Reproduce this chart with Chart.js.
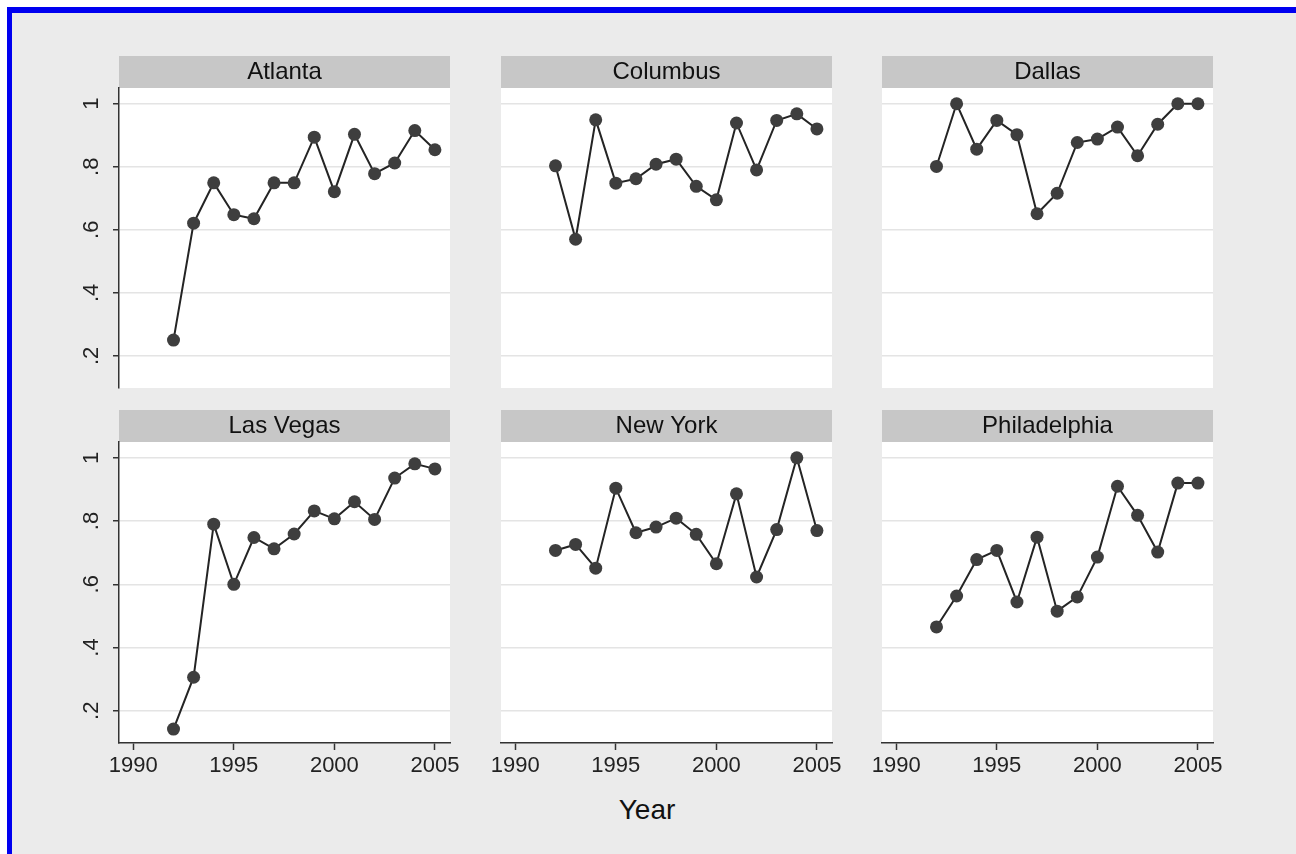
<!DOCTYPE html>
<html>
<head>
<meta charset="utf-8">
<title>Share by city, 1992-2005</title>
<script src="https://cdn.jsdelivr.net/npm/chart.js@4.4.1/dist/chart.umd.min.js"></script>
<style>
    html, body { margin: 0; padding: 0; background: #fff; }
    body { width: 1296px; height: 854px; overflow: hidden; position: relative; font-family: "Liberation Sans", Arial, sans-serif; }
    #frame { position: absolute; left: 7px; top: 7px; right: 0; bottom: 0; background: #ebebeb; border-top: 6px solid #0000f0; border-left: 5px solid #0000f0; }
    canvas.panel { position: absolute; }
    #xTitle { position: absolute; left: 547px; width: 200px; top: 794px; line-height: 32px; text-align: center; font-size: 28px; color: #111; }
</style>
</head>
<body>
<div id="frame"></div>
<div id="xTitle">Year</div>

<script>
// Data (one value per year, 1992-2005)
const years = [1992, 1993, 1994, 1995, 1996, 1997, 1998, 1999, 2000, 2001, 2002, 2003, 2004, 2005];

const atlanta      = [0.250, 0.621, 0.749, 0.648, 0.635, 0.749, 0.749, 0.894, 0.721, 0.903, 0.778, 0.812, 0.915, 0.854];
const columbus     = [0.803, 0.570, 0.949, 0.748, 0.762, 0.808, 0.824, 0.738, 0.695, 0.939, 0.790, 0.947, 0.968, 0.920];
const dallas       = [0.801, 1.000, 0.856, 0.947, 0.902, 0.651, 0.716, 0.877, 0.888, 0.926, 0.835, 0.935, 1.000, 1.000];
const lasVegas     = [0.142, 0.306, 0.790, 0.600, 0.748, 0.712, 0.759, 0.832, 0.807, 0.861, 0.805, 0.936, 0.981, 0.965];
const newYork      = [0.707, 0.726, 0.651, 0.904, 0.763, 0.781, 0.809, 0.758, 0.665, 0.886, 0.623, 0.773, 1.000, 0.770];
const philadelphia = [0.465, 0.563, 0.678, 0.707, 0.544, 0.749, 0.515, 0.560, 0.686, 0.910, 0.818, 0.702, 0.920, 0.920];

const cityNames  = ['Atlanta', 'Columbus', 'Dallas', 'Las Vegas', 'New York', 'Philadelphia'];
const cityValues = [atlanta, columbus, dallas, lasVegas, newYork, philadelphia];

const xTicks = [1990, 1995, 2000, 2005];
const yTicks = [0.2, 0.4, 0.6, 0.8, 1];
const yTickLabels = ['.2', '.4', '.6', '.8', '1'];

// Panel geometry
const colLeft = [119, 501, 882];
const rowTop = [56, 410];
const plotWidth = 331;
const axisSpace = 70;      // room left of the plot for the y axis
const rightPad = 20;
const headerHeight = 32;
const xAxisHeight = 50;
const bottomPad = 40;      // top row: keeps rotated y labels from squeezing the plot

Chart.defaults.font.family = '"Liberation Sans", Arial, sans-serif';
Chart.defaults.color = '#222';

// Paints the white plot area and the grey strip behind each panel title
const panelBackground = {
    id: 'panelBackground',
    beforeDraw(chart) {
        const ctx = chart.ctx;
        const area = chart.chartArea;
        const t = chart.titleBlock;
        ctx.save();
        ctx.fillStyle = '#c7c7c7';
        ctx.fillRect(area.left, t.top, area.right - area.left, t.bottom - t.top);
        ctx.fillStyle = '#ffffff';
        ctx.fillRect(area.left, area.top, area.right - area.left, area.bottom - area.top);
        ctx.restore();
    }
};

function makePanel(index) {
    const row = Math.floor(index / 3);
    const col = index % 3;
    const showX = row === 1;
    const showY = col === 0;
    const plotHeight = row === 0 ? 300 : 301;
    const bottomSpace = showX ? xAxisHeight : bottomPad;

    const canvas = document.createElement('canvas');
    canvas.className = 'panel';
    canvas.width = axisSpace + plotWidth + rightPad;
    canvas.height = headerHeight + plotHeight + bottomSpace;
    canvas.style.left = (colLeft[col] - axisSpace) + 'px';
    canvas.style.top = rowTop[row] + 'px';
    document.body.appendChild(canvas);

    const values = cityValues[index];
    const points = years.map((yr, i) => ({ x: yr, y: values[i] }));

    new Chart(canvas.getContext('2d'), {
        type: 'line',
        data: {
            datasets: [{
                label: cityNames[index],
                data: points,
                borderColor: '#242424',
                borderWidth: 2,
                pointRadius: 6.5,
                pointHoverRadius: 6.5,
                pointBackgroundColor: '#3e3e3e',
                pointBorderWidth: 0,
                tension: 0
            }]
        },
        options: {
            responsive: false,
            animation: false,
            devicePixelRatio: 1,
            layout: {
                padding: { left: 0, top: 0, right: rightPad, bottom: showX ? 0 : bottomPad }
            },
            plugins: {
                legend: { display: false },
                tooltip: { enabled: false },
                title: {
                    display: true,
                    text: cityNames[index],
                    fullSize: false,
                    color: '#111',
                    font: { size: 24, weight: 'normal', lineHeight: 1.2 },
                    padding: { top: 2, bottom: 1.2 }
                }
            },
            scales: {
                x: {
                    type: 'linear',
                    display: showX,
                    min: 1989.29,
                    max: 2005.75,
                    afterBuildTicks: scale => { scale.ticks = xTicks.map(v => ({ value: v })); },
                    afterFit: scale => { scale.height = showX ? xAxisHeight : 0; },
                    border: { display: true, color: '#333', width: 1.5 },
                    grid: {
                        drawOnChartArea: false,
                        drawTicks: true,
                        tickLength: 7,
                        tickColor: '#333',
                        tickWidth: 1.5
                    },
                    ticks: {
                        font: { size: 22 },
                        color: '#222',
                        padding: 3,
                        maxRotation: 0,
                        autoSkip: false,
                        callback: value => String(value)
                    }
                },
                y: {
                    type: 'linear',
                    min: 0.098,
                    max: 1.05,
                    afterBuildTicks: scale => { scale.ticks = yTicks.map(v => ({ value: v })); },
                    afterFit: scale => { scale.width = axisSpace; },
                    border: { display: showY, color: '#333', width: 1.5 },
                    grid: {
                        color: '#e4e4e4',
                        lineWidth: 1.5,
                        drawTicks: showY,
                        tickLength: 6,
                        tickColor: '#333',
                        tickWidth: 1.5
                    },
                    ticks: {
                        display: showY,
                        font: { size: 22 },
                        color: '#222',
                        minRotation: 90,
                        maxRotation: 90,
                        crossAlign: 'center',
                        padding: 12,
                        callback: value => yTickLabels[yTicks.indexOf(value)]
                    }
                }
            }
        },
        plugins: [panelBackground]
    });
}

document.addEventListener('DOMContentLoaded', function() {
    cityNames.forEach((name, i) => makePanel(i));
});
</script>
</body>
</html>
